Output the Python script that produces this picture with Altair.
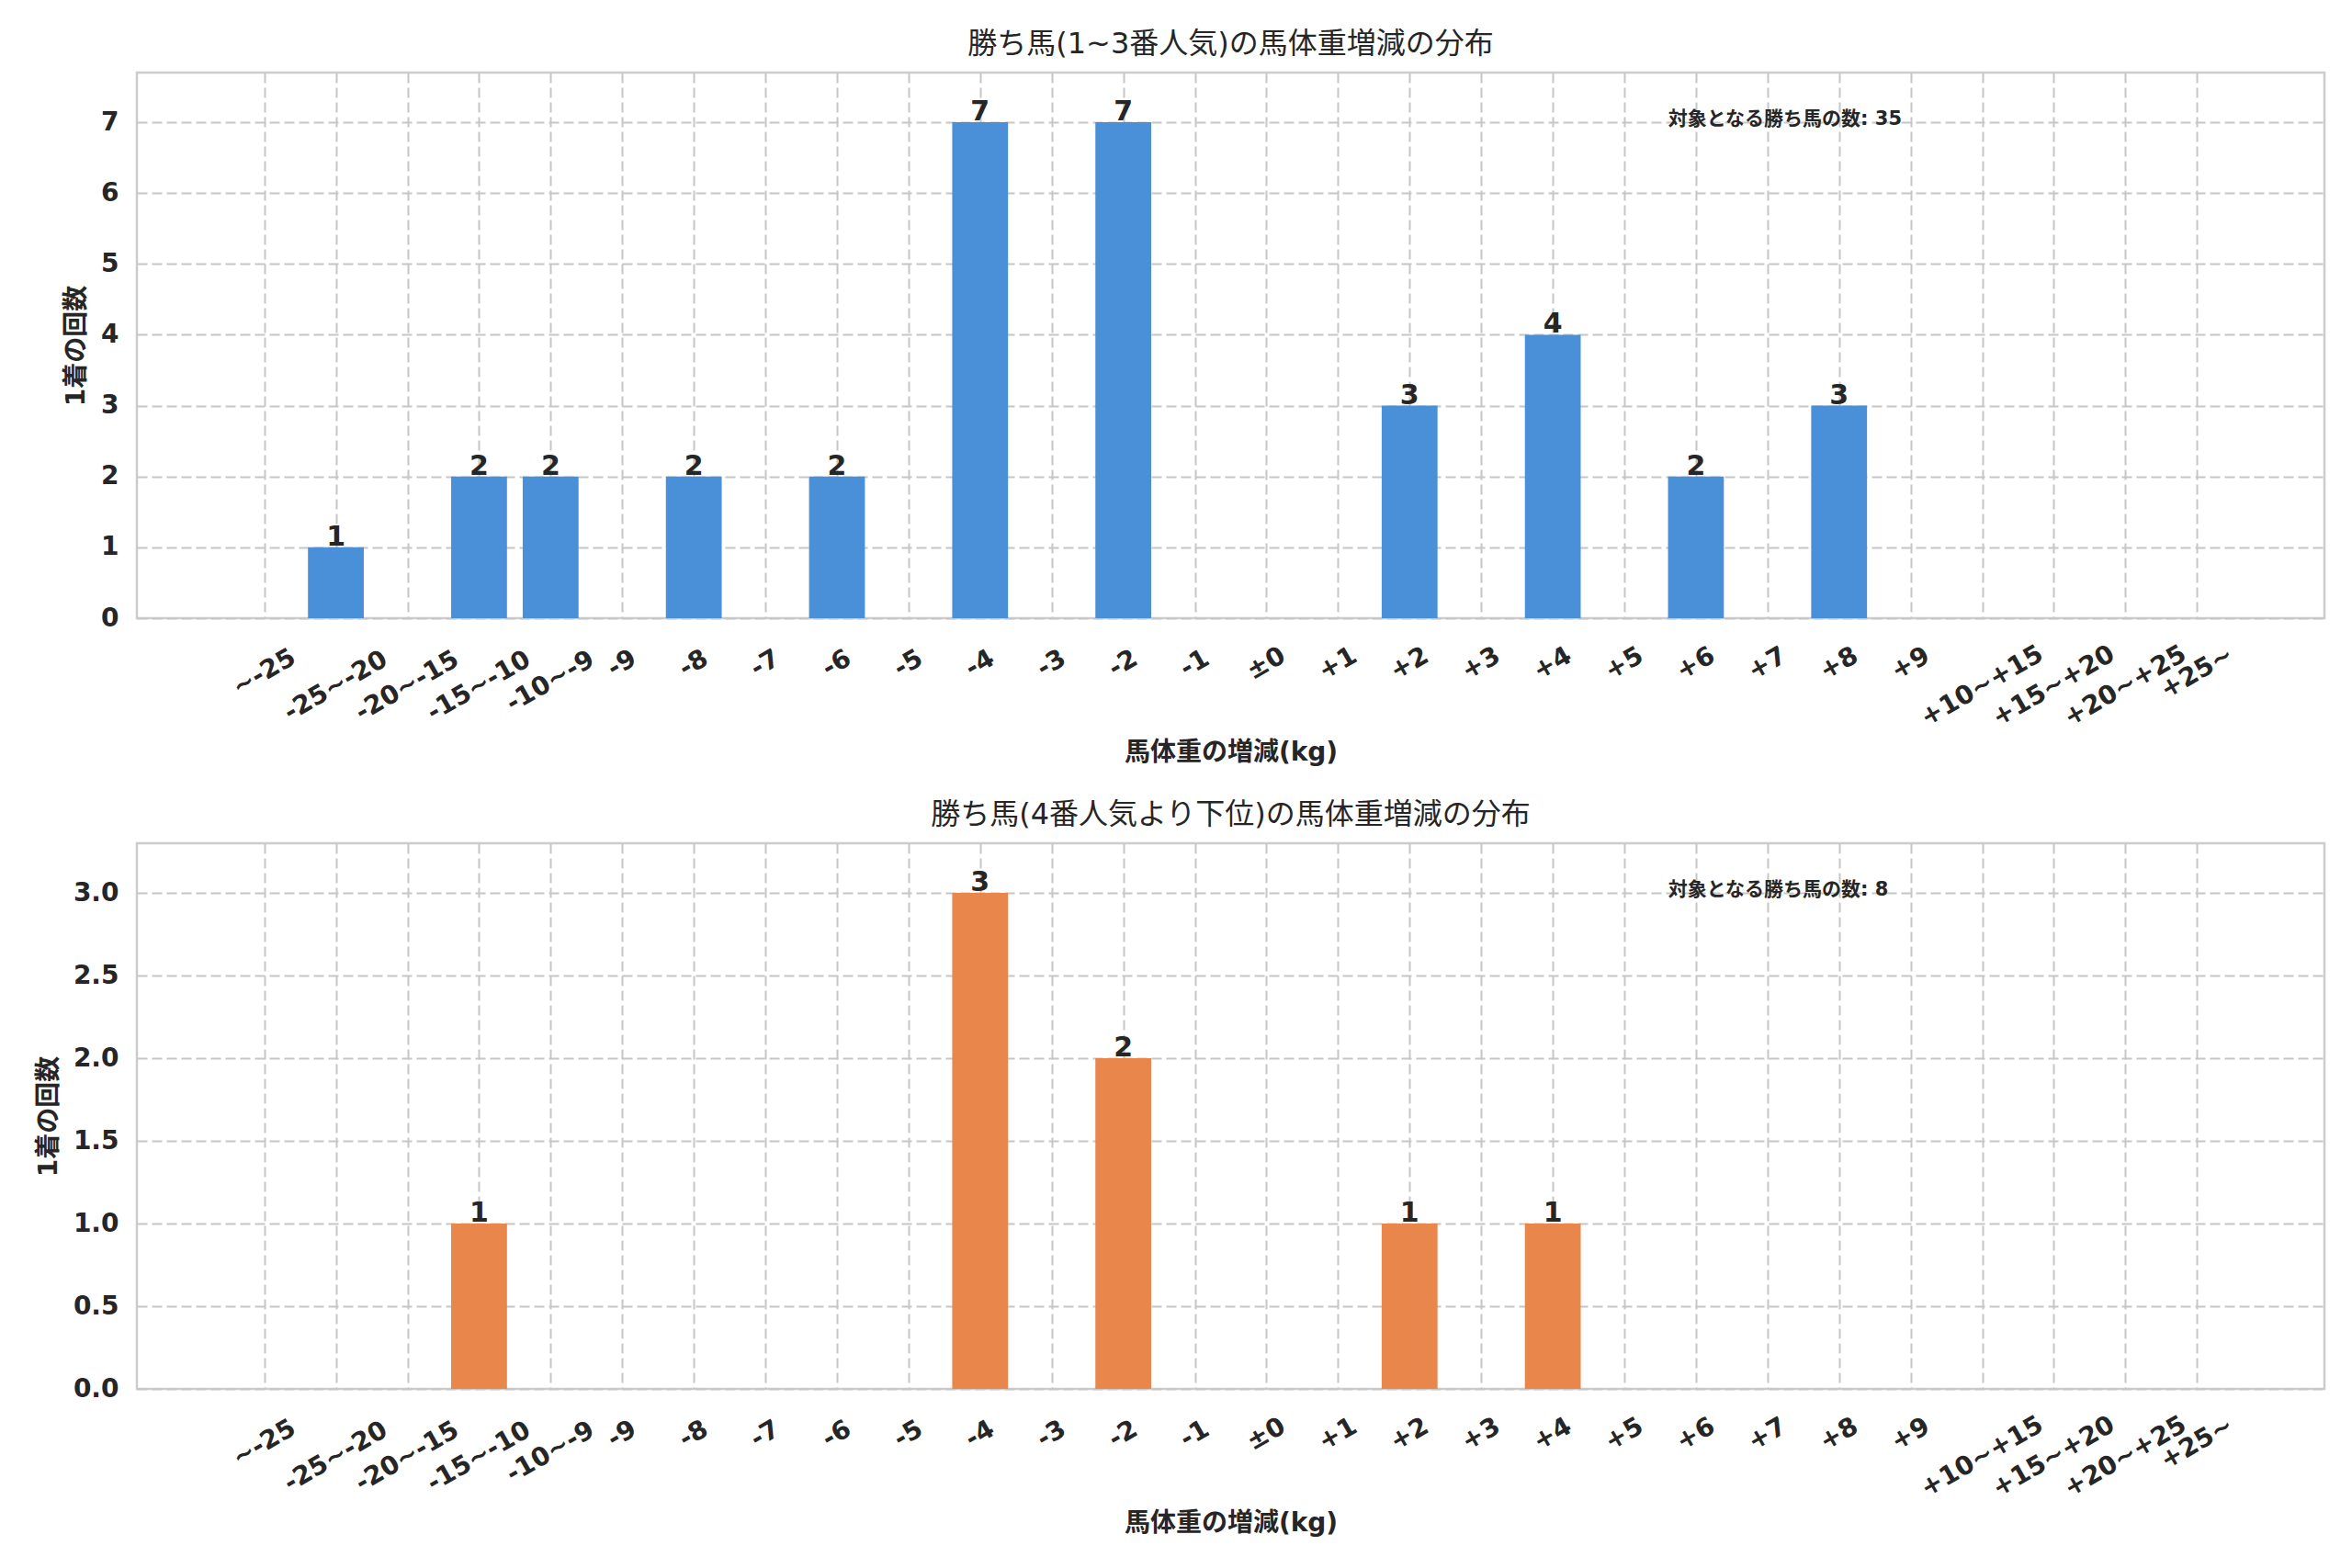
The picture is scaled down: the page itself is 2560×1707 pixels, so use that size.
import altair as alt
import pandas as pd

categories = ["~-25", "-25~-20", "-20~-15", "-15~-10", "-10~-9", "-9", "-8", "-7", "-6", "-5",
              "-4", "-3", "-2", "-1", "±0", "+1", "+2", "+3", "+4", "+5", "+6", "+7", "+8", "+9",
              "+10~+15", "+15~+20", "+20~+25", "+25~"]
counts_top = [0, 1, 0, 2, 2, 0, 2, 0, 2, 0, 7, 0, 7, 0, 0, 0, 3, 0, 4, 0, 2, 0, 3, 0, 0, 0, 0, 0]
counts_bottom = [0, 0, 0, 1, 0, 0, 0, 0, 0, 0, 3, 0, 2, 0, 0, 0, 1, 0, 1, 0, 0, 0, 0, 0, 0, 0, 0, 0]

title_top = "勝ち馬(1~3番人気)の馬体重増減の分布"
title_bottom = "勝ち馬(4番人気より下位)の馬体重増減の分布"
x_title = "馬体重の増減(kg)"
y_title = "1着の回数"
note_prefix = "対象となる勝ち馬の数"
yticks_top = [0, 1, 2, 3, 4, 5, 6, 7]
yticks_bottom = [0, 0.5, 1.0, 1.5, 2.0, 2.5, 3.0]

FONT = "DejaVu Sans, Noto Sans CJK JP"
INK = "#262626"
W = 2381
H = 594
N = len(categories)
XPAD = 1.78
HALF = 0.39


def panel(counts, color, title, ymax, yticks, yfmt):
    df = pd.DataFrame({"cat": categories, "idx": list(range(N)), "v": counts})
    note = f"{note_prefix}: {sum(counts)}"
    xscale = alt.Scale(domain=[-XPAD, N - 1 + XPAD], nice=False, zero=False)
    x_axis = alt.Axis(values=list(range(N)), labels=False, ticks=False, domain=False, grid=True,
                      title=x_title, titlePadding=132, titleFont=FONT, titleFontSize=28,
                      titleFontWeight="bold", titleColor=INK)
    yscale = alt.Scale(domain=[0, ymax], nice=False, zero=True)
    base = alt.Chart(df)
    bars = base.transform_filter("datum.v > 0").transform_calculate(
        lo=f"datum.idx - {HALF}", hi=f"datum.idx + {HALF}"
    ).mark_bar(color=color).encode(
        x=alt.X("lo:Q", scale=xscale, axis=x_axis),
        x2="hi:Q",
        y=alt.Y("v:Q", scale=yscale,
                axis=alt.Axis(values=yticks, format=yfmt, title=y_title, ticks=False, domain=False,
                              labelFont="DejaVu Sans", labelFontSize=28, labelFontWeight="bold",
                              labelColor=INK, labelPadding=20, titleFont=FONT, titleFontSize=28,
                              titleFontWeight="bold", titleColor=INK, titlePadding=12)),
        y2=alt.datum(0),
    )
    vals = base.transform_filter("datum.v > 0").mark_text(
        font="DejaVu Sans", fontSize=30, fontWeight="bold", color=INK, baseline="alphabetic", dy=-2
    ).encode(
        x=alt.X("idx:Q", scale=xscale),
        y=alt.Y("v:Q", scale=yscale, axis=None),
        text=alt.Text("v:Q"),
    )
    labs = base.transform_calculate(
        ly=f"{H} + 40 + 4.9 * length(datum.cat)"
    ).mark_text(
        angle=330, align="center", baseline="middle", font="DejaVu Sans", fontSize=28,
        fontWeight="bold", color=INK
    ).encode(
        x=alt.X("idx:Q", scale=xscale),
        y=alt.Y("ly:Q", scale=None, axis=None),
        text=alt.Text("cat:N"),
    )
    ann = alt.Chart(pd.DataFrame({"t": [note]})).mark_text(
        align="left", baseline="middle", font=FONT, fontSize=21, fontWeight="bold", color=INK
    ).encode(
        x=alt.value(W * 0.70),
        y=alt.value(51),
        text=alt.Text("t:N"),
    )
    return alt.layer(bars, vals, labs, ann).resolve_scale(y="independent").properties(
        width=W, height=H,
        title=alt.TitleParams(title, font=FONT, fontSize=32, fontWeight="normal", color=INK,
                              offset=14, anchor="middle"),
    )


top = panel(counts_top, "#4A90D9", title_top, 7.7, yticks_top, "d")
bottom = panel(counts_bottom, "#E8864C", title_bottom, 3.3, yticks_bottom, ".1f")

chart = alt.vconcat(top, bottom, spacing=34).properties(
    padding={"left": 30, "top": 22, "right": 20, "bottom": 20},
    background="white",
).configure_view(
    stroke="#cccccc", strokeWidth=2.5
).configure_axis(
    gridColor="#c6c6c6", gridDash=[11, 5], gridWidth=2
)

chart.save("out.html", embed_options={"renderer": "svg", "actions": False})
